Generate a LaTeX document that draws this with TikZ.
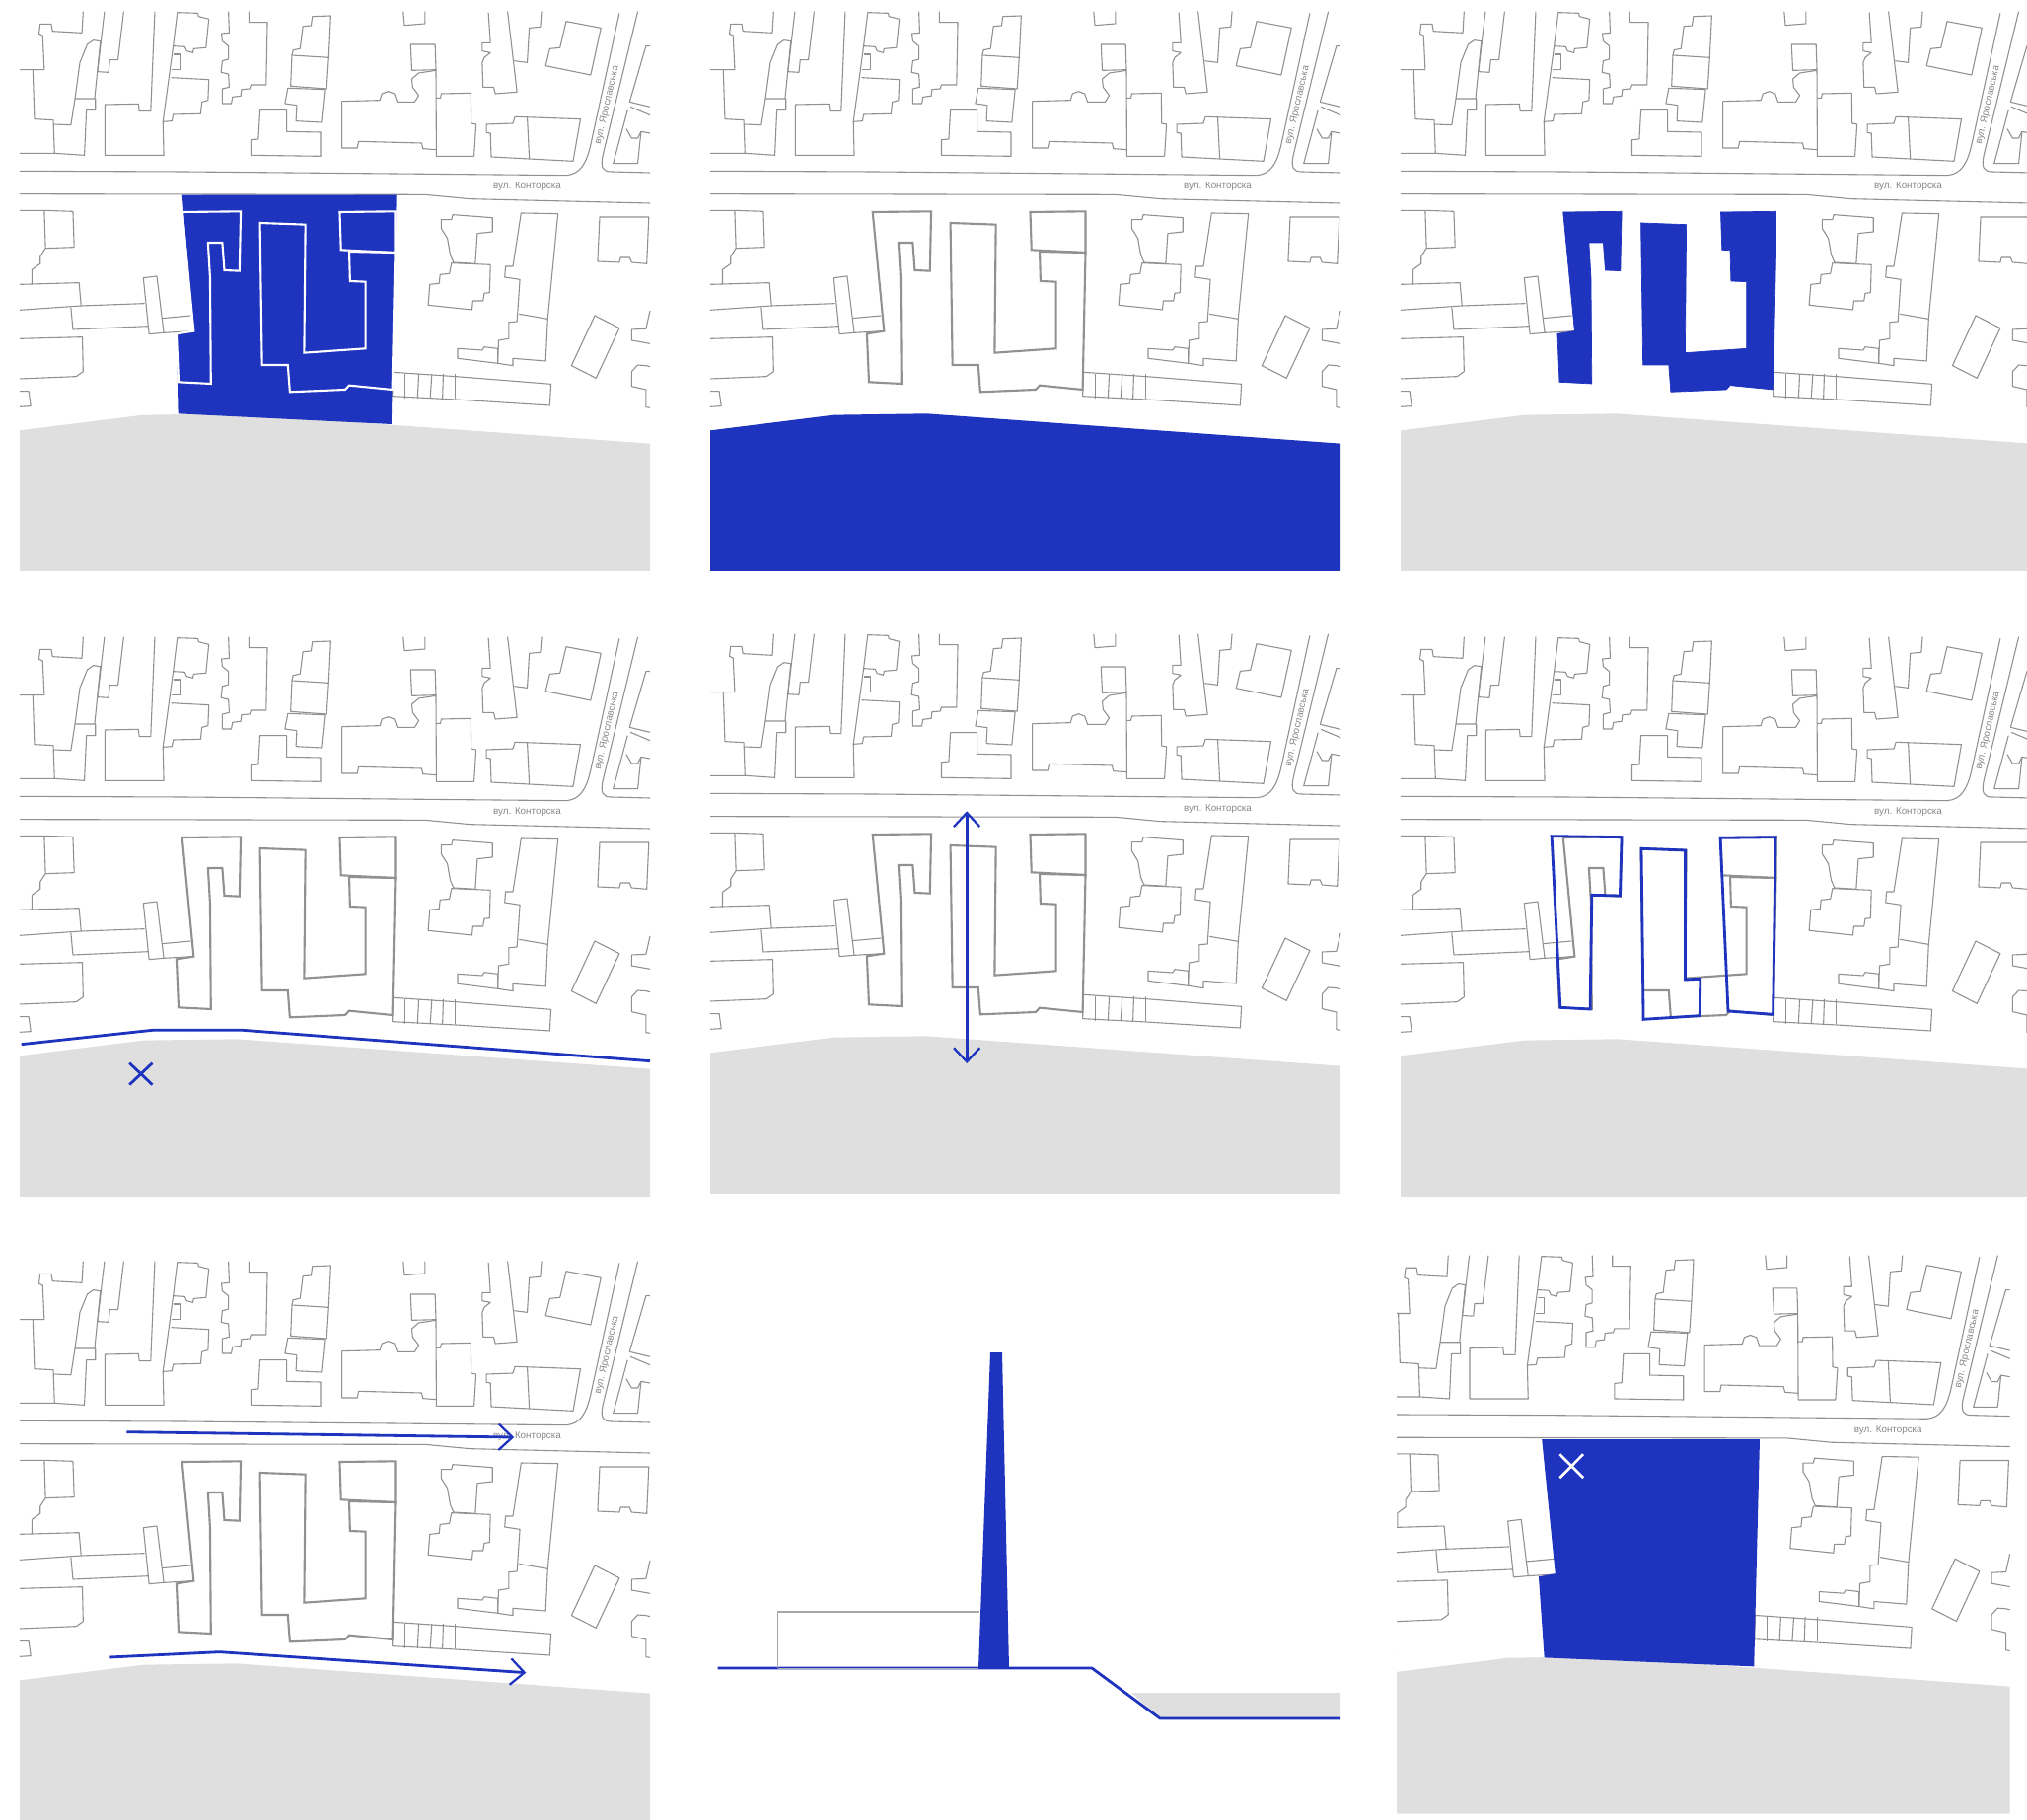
\documentclass[tikz,border=0pt]{standalone}
\usepackage{fontspec}
\setmainfont{Liberation Sans}
\usepackage{xcolor}
\usetikzlibrary{arrows.meta}
\definecolor{planblue}{RGB}{31, 52, 190}
\definecolor{landgrey}{RGB}{223, 223, 223}
\definecolor{outlinegrey}{RGB}{145, 145, 145}
\definecolor{labelgrey}{RGB}{135, 135, 135}
\tikzset{
    panel/.style 2 args={shift={(#1,#2)}, x=0.0082988cm, y=-0.0066667cm},
    houseline/.style={draw=outlinegrey, line width=0.62pt, line join=round},
    complexline/.style={draw=outlinegrey, line width=1.2pt, line join=miter},
    blueline/.style={draw=planblue, line width=1.6pt, line join=round},
    streetlabel/.style={font=\fontsize{5.6}{6}\selectfont, text=labelgrey, inner sep=0pt},
    barb/.style={-{Straight Barb[length=8pt, width=15pt, line width=1.3pt]}}
}
% Shapes shared by the panels
\newcommand{\landshape}{(0,1309) -- (302,1262) -- (529,1258) -- (1540,1349) -- (1540,1737) -- (0,1737) -- cycle}
\newcommand{\plotshape}{(397,593) -- (920,593) -- (908,1290) -- (387,1258) -- (383,1015) -- (425,1007) -- cycle}
\newcommand{\wingwest}{(397,645) -- (540,643) -- (537,824) -- (500,822) -- (495,738) -- (460,738) -- (465,845) -- (467,1167) -- (388,1162) -- (383,1015) -- (425,1007) -- cycle}
\newcommand{\wingeast}{(587,678) -- (698,683) -- (695,1073) -- (845,1060) -- (845,857) -- (807,855) -- (805,765) -- (917,768) -- (910,1185) -- (805,1172) -- (795,1185) -- (660,1192) -- (655,1110) -- (592,1110) -- cycle}
\newcommand{\wingnorth}{(782,645) -- (917,643) -- (917,768) -- (785,760) -- cycle}
% Streets and neighbouring houses
\newcommand{\houses}{
    \draw[houseline] (0,520) -- (400,522) -- (1335,533) .. controls (1370,530) and (1385,495) .. (1395,440) -- (1465,40);
    \draw[houseline] (1510,35) -- (1425,470) .. controls (1418,510) and (1425,522) .. (1445,522) -- (1540,525);
    \draw[houseline] (0,590) -- (990,592) -- (1100,605) -- (1540,618);
    % North of the street
    \draw[houseline] (0,212) -- (60,212) -- (56,108) -- (47,103) -- (50,73) -- (77,73) -- (80,95) -- (152,100) -- (155,35);
    \draw[houseline] (32,212) -- (36,362) -- (82,365) -- (85,466);
    \draw[houseline] (0,466) -- (85,466) -- (158,472) -- (163,335) -- (185,335) -- (185,300) -- (135,300) -- (125,380) -- (82,378);
    \draw[houseline] (135,300) -- (147,190) -- (165,135) -- (180,122) -- (197,125) -- (183,300);
    \draw[houseline] (207,35) -- (190,218) -- (217,220) -- (220,182) -- (240,182) -- (254,35);
    \draw[houseline] (330,35) -- (320,338) -- (292,338) -- (290,316) -- (208,318) -- (208,472) -- (352,472) -- (350,370) -- (372,368) -- (375,348) -- (442,346) -- (445,310) -- (460,305) -- (462,242) -- (370,236);
    \draw[houseline] (350,370) -- (375,140) -- (385,38) -- (435,40) -- (437,50) -- (462,58) -- (455,145) -- (425,148) -- (423,160) -- (408,155) -- (403,142) -- (375,140);
    \draw[houseline] (375,165) -- (392,165) -- (392,212) -- (372,212);
    \draw[houseline] (510,35) -- (512,100) -- (493,102) -- (495,125) -- (510,140) -- (510,180) -- (495,185) -- (492,220) -- (510,225) -- (512,265) -- (495,270) -- (495,315) -- (517,315) -- (520,295) -- (540,292) -- (542,272) -- (562,270) -- (565,258) -- (602,258) -- (605,68) -- (560,68) -- (560,35);
    \draw[houseline] (760,48) -- (715,50) -- (712,78) -- (692,80) -- (685,148) -- (668,152) -- (665,168) -- (755,175) -- cycle;
    \draw[houseline] (665,168) -- (662,262) -- (750,270) -- (755,175);
    \draw[houseline] (655,268) -- (745,272) -- (737,372) -- (675,368) -- (677,320) -- (648,315) -- cycle;
    \draw[houseline] (565,472) -- (565,425) -- (583,423) -- (587,335) -- (652,335) -- (652,400) -- (735,402) -- (735,475) -- cycle;
    \draw[houseline] (937,35) -- (940,77) -- (990,72) -- (990,35);
    \draw[houseline] (955,135) -- (1015,135) -- (1017,212) -- (958,214) -- cycle;
    \draw[houseline] (787,308) -- (880,305) -- (885,285) -- (900,278) -- (915,285) -- (922,310) -- (965,310) -- (975,290) -- (960,265) -- (958,240) -- (975,222) -- (1017,214) -- (1018,475) -- (1110,475) -- (1115,378) -- (1103,375) -- (1102,283) -- (1030,285) -- (1028,298) -- (1018,298);
    \draw[houseline] (787,308) -- (787,450) -- (825,450) -- (828,430) -- (982,435) -- (985,452) -- (1018,455);
    \draw[houseline] (1145,38) -- (1150,130) -- (1130,130) -- (1130,155) -- (1150,160) -- (1135,175) -- (1130,190) -- (1132,265) -- (1158,265) -- (1162,285) -- (1215,280) -- (1192,35);
    \draw[houseline] (1208,185) -- (1240,190) -- (1245,85) -- (1272,82) -- (1275,35);
    \draw[houseline] (1335,65) -- (1420,85) -- (1395,228) -- (1285,200) -- (1295,148) -- (1320,145) -- cycle;
    \draw[houseline] (1140,378) -- (1205,375) -- (1210,355) -- (1370,362) -- (1352,490) -- (1152,477) -- (1150,405) -- (1140,403) -- cycle;
    \draw[houseline] (1240,355) -- (1245,483);
    \draw[houseline] (1540,140) -- (1530,140) -- (1490,310) -- (1540,325);
    \draw[houseline] (1492,325) -- (1540,350);
    \draw[houseline] (1485,335) -- (1450,497) -- (1510,497) -- (1518,400) -- (1540,405);
    \draw[houseline] (1482,392) -- (1495,420) -- (1510,420) -- (1518,400);
    % South of the street
    \draw[houseline] (0,640) -- (60,640) -- (130,643) -- (133,752) -- (63,755) -- (60,640);
    \draw[houseline] (63,755) -- (50,780) -- (50,802) -- (30,820) -- (30,865);
    \draw[houseline] (0,865) -- (145,860) -- (150,930) -- (0,943);
    \draw[houseline] (125,935) -- (130,1002) -- (315,992);
    \draw[houseline] (150,930) -- (305,923);
    \draw[houseline] (302,845) -- (335,840) -- (352,1012) -- (316,1016) -- cycle;
    \draw[houseline] (347,968) -- (418,960);
    \draw[houseline] (352,1012) -- (425,1007);
    \draw[houseline] (0,1030) -- (153,1025) -- (155,1130) -- (138,1145) -- (0,1152);
    \draw[houseline] (0,1190) -- (22,1190) -- (27,1235) -- (0,1237);
    \draw[houseline] (1030,668) -- (1055,668) -- (1058,653) -- (1155,662) -- (1155,705) -- (1118,710) -- (1113,802) -- (1060,798) -- (1052,775) -- (1045,725) -- (1030,695) -- cycle;
    \draw[houseline] (1055,800) -- (1150,805) -- (1148,890) -- (1135,892) -- (1132,915) -- (1107,915) -- (1105,942) -- (998,928) -- (1002,865) -- (1025,862) -- (1027,835) -- (1050,832) -- cycle;
    \draw[houseline] (1225,648) -- (1315,650) -- (1290,970) -- (1285,1098) -- (1205,1090) -- (1205,1112) -- (1168,1105) -- (1170,1035) -- (1195,1030) -- (1195,980) -- (1215,978) -- (1222,850) -- (1185,843) -- (1187,810) -- (1205,810) -- cycle;
    \draw[houseline] (1220,955) -- (1290,970);
    \draw[houseline] (1070,1060) -- (1130,1065) -- (1135,1055) -- (1168,1060) -- (1168,1105) -- (1070,1090) -- cycle;
    \draw[houseline] (1417,660) -- (1537,660) -- (1532,802) -- (1495,798) -- (1490,783) -- (1468,783) -- (1465,798) -- (1412,795) -- cycle;
    \draw[houseline] (1405,960) -- (1465,998) -- (1408,1150) -- (1348,1112) -- cycle;
    \draw[houseline] (1540,945) -- (1530,1000) -- (1495,1002) -- (1495,1035) -- (1540,1045);
    \draw[houseline] (1540,1115) -- (1530,1112) -- (1510,1110) -- (1495,1130) -- (1495,1175) -- (1530,1185) -- (1530,1238) -- (1540,1240);
    % Row of garages
    \draw[houseline] (912,1132) -- (1065,1145) -- (1298,1168) -- (1295,1233) -- (1065,1215) -- (910,1205) -- cycle;
    \foreach \xa/\xb in {942/942, 975/972, 1007/1003, 1035/1033, 1065/1065}
        \draw[houseline] (\xa,1137) -- (\xb,1212);
    % Street names
    \node[streetlabel] (kontorska) at (1240,568) {вул. Конторска};
    \node[streetlabel, rotate=77] (yaroslavska) at (1435,320) {вул. Ярославська};
}
\newcommand{\complexplan}[1]{
    \draw[#1] \wingwest;
    \draw[#1] \wingeast;
    \draw[#1] \wingnorth;
}

\begin{document}
\begin{tikzpicture}[x=0.02cm, y=-0.02cm]
    \clip (0,0) rectangle (2055,1845);

    % Row 1, left: the plot
    \begin{scope}[panel={20}{0}]
        \fill[landgrey] \landshape;
        \houses
        \fill[planblue] \plotshape;
        \complexplan{draw=white, line width=1.2pt}
    \end{scope}

    % Row 1, middle: the land in blue
    \begin{scope}[panel={720}{0}]
        \fill[planblue] \landshape;
        \houses
        \complexplan{complexline}
    \end{scope}

    % Row 1, right: the buildings filled
    \begin{scope}[panel={1420}{0}]
        \fill[landgrey] \landshape;
        \houses
        \complexplan{draw=planblue, fill=planblue, line width=0.4pt}
        \fill[planblue] (785,755) -- (917,760) -- (917,775) -- (805,775) -- (805,760) -- cycle;
    \end{scope}

    % Row 2, left: edge line and cross
    \begin{scope}[panel={20}{634}]
        \fill[landgrey] \landshape;
        \houses
        \complexplan{complexline}
        \draw[blueline] (4,1274) -- (324,1231) -- (545,1231) -- (1540,1325);
        \draw[blueline] (268,1331) -- (324,1397);
        \draw[blueline] (324,1331) -- (268,1397);
    \end{scope}

    % Row 2, middle: double arrow
    \begin{scope}[panel={720}{631}]
        \fill[landgrey] \landshape;
        \houses
        \complexplan{complexline}
        \draw[blueline, {Straight Barb[length=8pt, width=15pt, line width=1.3pt]}-{Straight Barb[length=8pt, width=15pt, line width=1.3pt]}] (627,574) -- (627,1341);
    \end{scope}

    % Row 2, right: three volumes
    \begin{scope}[panel={1420}{634}]
        \fill[landgrey] \landshape;
        \houses
        \complexplan{complexline}
        \draw[blueline, line join=miter] (369,641) -- (540,644) -- (536,822) -- (467,820) -- (463,1167) -- (390,1162) -- cycle;
        \draw[blueline, line join=miter] (588,679) -- (695,684) -- (695,1077) -- (732,1075) -- (731,1187) -- (593,1198) -- cycle;
        \draw[blueline, line join=miter] (781,646) -- (916,644) -- (910,1183) -- (800,1173) -- cycle;
    \end{scope}

    % Row 3, left: two directions
    \begin{scope}[panel={20}{1267}]
        \fill[landgrey] \landshape;
        \houses
        \complexplan{complexline}
        \draw[blueline, barb] (261,554) -- (1208,570);
        \draw[blueline, barb] (220,1239) -- (488,1223) -- (1237,1286);
    \end{scope}

    % Row 3, middle: section
    \fill[landgrey] (1147,1716) -- (1359,1716) -- (1359,1742) -- (1176,1742) -- cycle;
    \fill[planblue] (1004,1371) -- (1016,1371) -- (1023,1691) -- (992,1691) -- cycle;
    \draw[blueline] (727.5,1691) -- (1107,1691) -- (1176,1742) -- (1359,1742);
    \draw[draw=outlinegrey!80, line width=1.1pt] (788.5,1691) -- (788.5,1634) -- (993,1634);
    \draw[draw=outlinegrey!80, line width=0.5pt] (788.5,1691) -- (992,1691);

    % Row 3, right: the plot, cleared
    \begin{scope}[panel={1404.5}{1261}, x=0.00822cm, y=-0.006646cm]
        \clip (28,0) rectangle (1544,1800);
        \fill[landgrey] \landshape;
        \houses
        \fill[planblue] (386,596) -- (923,596) -- (909,1288) -- (392,1261) -- (378,1014) -- (419,1005) -- cycle;
        \draw[draw=white, line width=1.5pt] (430,641) -- (488,713);
        \draw[draw=white, line width=1.5pt] (488,641) -- (430,713);
    \end{scope}
\end{tikzpicture}
\end{document}
